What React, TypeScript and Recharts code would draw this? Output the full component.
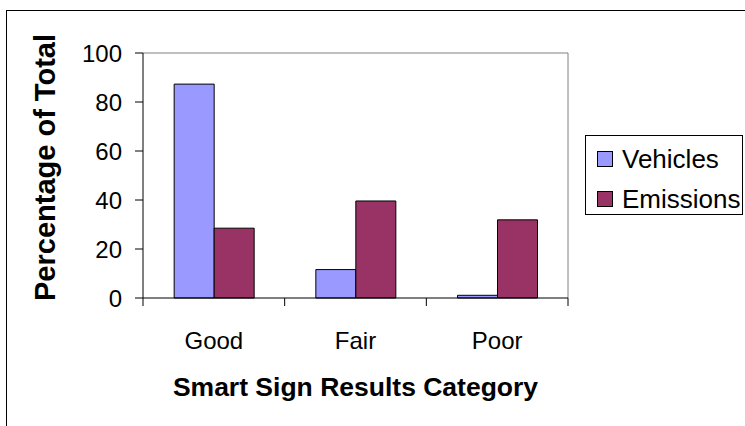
import React from 'react';
import { BarChart, Bar, XAxis, YAxis, Legend, ReferenceLine } from 'recharts';

const categories = ['Good', 'Fair', 'Poor'];
const seriesNames = ['Vehicles', 'Emissions'];
const seriesColors = ['#9999FF', '#993366'];
const vehicles = [87.3, 11.6, 1.1];
const emissions = [28.5, 39.6, 31.9];
const yTicks = [0, 20, 40, 60, 80, 100];

const data = categories.map((c, i) => ({ category: c, Vehicles: vehicles[i], Emissions: emissions[i] }));

const FONT = '"Liberation Sans", Arial, sans-serif';

const YTitle = (props: any) => {
  const vb = props.viewBox || {};
  const cx = vb.x + 55;
  const cy = vb.y + vb.height / 2 - 8;
  return (
    <text x={cx} y={cy} transform={`rotate(-90, ${cx}, ${cy})`} textAnchor="middle"
      fontFamily={FONT} fontWeight="bold" fontSize={29} fill="#000">Percentage of Total</text>
  );
};

const XTitle = (props: any) => {
  const vb = props.viewBox || {};
  const cx = vb.x + vb.width / 2;
  const cy = vb.y + 98;
  return (
    <text x={cx} y={cy} textAnchor="middle" fontFamily={FONT} fontWeight="bold" fontSize={26.5} fill="#000">
      Smart Sign Results Category
    </text>
  );
};

const CatTick = (props: any) => {
  const { x, y, payload, visibleTicksCount } = props;
  const half = payload.offset || 0;
  const last = payload.index === (visibleTicksCount || categories.length) - 1;
  return (
    <g>
      <line x1={x - half} y1={y} x2={x - half} y2={y + 8} stroke="#000" strokeWidth={1} />
      {last && <line x1={x + half} y1={y} x2={x + half} y2={y + 8} stroke="#000" strokeWidth={1} />}
      <text x={x} y={y + 51} textAnchor="middle" fontFamily={FONT} fontSize={24} fill="#000">{payload.value}</text>
    </g>
  );
};

const LegendBox = () => {
  return (
    <div style={{ position: 'relative', border: '1px solid #000', width: 158, height: 80, boxSizing: 'border-box', background: '#fff', fontFamily: FONT, fontSize: 26, color: '#000' }}>
      {seriesNames.map((name, i) => (
        <div key={name} style={{ position: 'absolute', left: 11, top: 14 + i * 40, height: 18, display: 'flex', alignItems: 'center' }}>
          <span style={{ display: 'inline-block', width: 16, height: 16, background: seriesColors[i], border: '1px solid #000', boxSizing: 'border-box', flex: 'none' }} />
          <span style={{ marginLeft: 9, lineHeight: '18px', whiteSpace: 'nowrap' }}>{name}</span>
        </div>
      ))}
    </div>
  );
};

export default function App() {
  return (
    <div style={{ position: 'absolute', left: 0, top: 0, width: 745, height: 426, overflow: 'hidden', background: '#fff' }}>
      <div style={{ position: 'absolute', left: 6, top: 10, width: 900, height: 600, borderLeft: '1px solid #000', borderTop: '1px solid #000' }} />
      <div style={{ position: 'absolute', left: 0, top: 0 }}>
        <BarChart width={745} height={426} data={data} margin={{ top: 53, right: 177, left: 0, bottom: 28 }}
          barCategoryGap="22%" barGap={0}>
          <ReferenceLine y={100} stroke="#808080" strokeWidth={1} />
          <ReferenceLine x="Poor" position="end" stroke="#808080" strokeWidth={1} />
          <XAxis dataKey="category" height={100} tickLine={false} axisLine={{ stroke: '#000' }} tickSize={0} tickMargin={0}
            tick={<CatTick />} interval={0} label={<XTitle />} />
          <YAxis domain={[0, 100]} ticks={yTicks} width={143} tickSize={8} tickMargin={13}
            tickLine={{ stroke: '#000' }} axisLine={{ stroke: '#000' }}
            tick={{ fontFamily: FONT, fontSize: 24, fill: '#000' }}
            label={<YTitle />} />
          <Legend layout="vertical" align="center" verticalAlign="middle" content={<LegendBox />}
            wrapperStyle={{ position: 'absolute', left: 585, top: 135, width: 158, height: 80 }} />
          <Bar dataKey="Vehicles" fill={seriesColors[0]} stroke="#000" strokeWidth={1} isAnimationActive={false} />
          <Bar dataKey="Emissions" fill={seriesColors[1]} stroke="#000" strokeWidth={1} isAnimationActive={false} />
        </BarChart>
      </div>
    </div>
  );
}
